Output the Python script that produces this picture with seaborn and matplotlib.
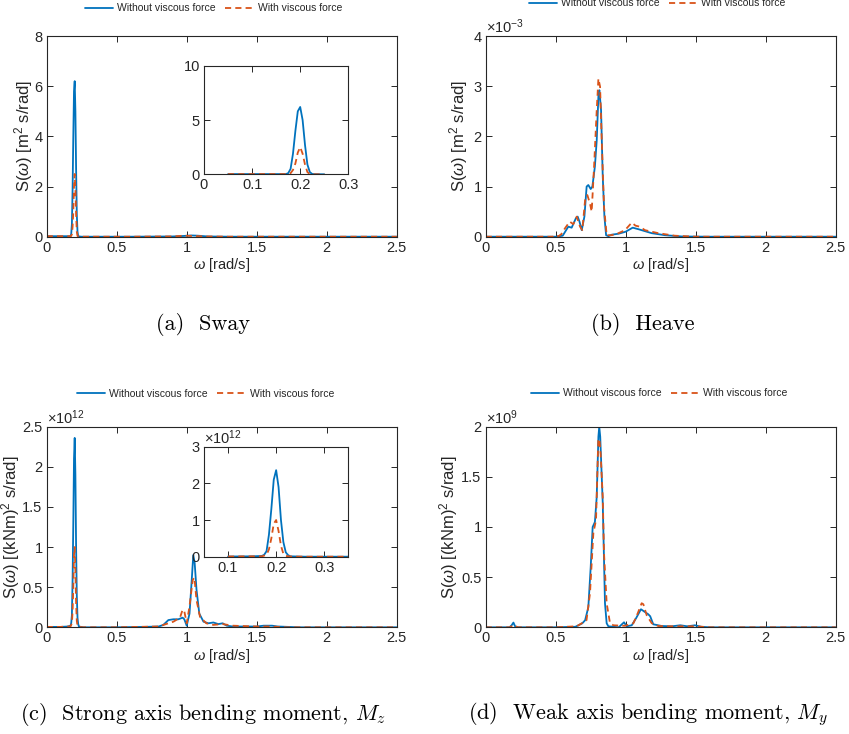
import numpy as np
import pandas as pd
import matplotlib
matplotlib.use("Agg")
import matplotlib.pyplot as plt
from matplotlib.ticker import FuncFormatter
import seaborn as sns

# ---------------- spectra (omega in rad/s) ----------------
# (a) sway [m^2 s/rad]
sway_w = [0.0, 0.05, 0.10, 0.15, 0.17, 0.175, 0.18, 0.185, 0.19, 0.195, 0.20, 0.205, 0.21, 0.215,
          0.22, 0.225, 0.23, 0.25, 0.30, 0.60, 0.90, 0.98, 1.03, 1.08, 1.15, 1.30, 2.00, 2.50]
sway_without = [0.02, 0.02, 0.02, 0.02, 0.02, 0.10, 0.50, 1.90, 4.00, 5.80, 6.20, 5.00, 2.70, 0.90,
                0.20, 0.03, 0.01, 0.0, 0.0, 0.0, 0.01, 0.03, 0.05, 0.04, 0.01, 0.0, 0.0, 0.0]
sway_with = [0.02, 0.02, 0.02, 0.02, 0.02, 0.03, 0.10, 0.40, 1.00, 2.00, 2.50, 1.90, 0.90, 0.20,
             0.03, 0.01, 0.0, 0.0, 0.0, 0.0, 0.01, 0.04, 0.03, 0.02, 0.01, 0.0, 0.0, 0.0]

# (b) heave [1e-3 m^2 s/rad]
heave_w_without = [0.0, 0.50, 0.55, 0.59, 0.614, 0.643, 0.657, 0.670, 0.686, 0.705, 0.721, 0.733,
                   0.750, 0.762, 0.780, 0.793, 0.805, 0.812, 0.824, 0.836, 0.848, 0.860, 0.876,
                   0.90, 0.95, 1.00, 1.05, 1.09, 1.186, 1.28, 1.40, 1.60, 2.50]
heave_without = [0.0, 0.0, 0.02, 0.20, 0.18, 0.36, 0.40, 0.30, 0.13, 0.40, 1.00, 1.03,
                 0.95, 1.00, 1.40, 1.92, 2.80, 2.92, 2.52, 1.20, 0.40, 0.03, 0.01,
                 0.04, 0.06, 0.10, 0.18, 0.15, 0.07, 0.03, 0.005, 0.0, 0.0]
heave_w_with = [0.0, 0.48, 0.50, 0.52, 0.54, 0.567, 0.60, 0.626, 0.650, 0.674, 0.690, 0.710,
                0.726, 0.745, 0.757, 0.774, 0.793, 0.805, 0.817, 0.829, 0.845, 0.864, 0.90,
                0.948, 0.995, 1.043, 1.07, 1.10, 1.138, 1.233, 1.35, 1.50, 2.50]
heave_with = [0.0, 0.0, 0.03, 0.01, 0.05, 0.17, 0.30, 0.25, 0.40, 0.20, 0.13, 0.73,
              0.83, 0.66, 0.50, 1.39, 2.52, 3.15, 2.99, 1.92, 0.60, 0.03, 0.03,
              0.07, 0.13, 0.28, 0.22, 0.20, 0.13, 0.07, 0.02, 0.0, 0.0]
HEAVE_EXP = -3

# (c) strong axis bending moment [1e12 (kNm)^2 s/rad]
mz_w_without = [0.0, 0.10, 0.15, 0.17, 0.175, 0.18, 0.185, 0.19, 0.195, 0.20, 0.205, 0.21, 0.215,
                0.22, 0.225, 0.23, 0.26, 0.35, 0.50, 0.70, 0.80, 0.833, 0.869, 0.905, 0.94, 0.971,
                0.983, 1.00, 1.02, 1.036, 1.047, 1.057, 1.07, 1.09, 1.12, 1.155, 1.19, 1.226,
                1.257, 1.286, 1.33, 1.50, 1.55, 1.61, 1.65, 1.80, 2.50]
mz_without = [0.005, 0.005, 0.01, 0.02, 0.05, 0.15, 0.60, 1.30, 2.10, 2.36, 1.90, 1.00, 0.40,
              0.12, 0.04, 0.01, 0.0, 0.0, 0.0, 0.005, 0.01, 0.03, 0.09, 0.10, 0.10, 0.12,
              0.10, 0.02, 0.17, 0.59, 0.90, 0.80, 0.47, 0.17, 0.07, 0.05, 0.06, 0.04,
              0.05, 0.02, 0.01, 0.01, 0.02, 0.02, 0.01, 0.0, 0.0]
mz_w_with = [0.0, 0.10, 0.15, 0.17, 0.18, 0.185, 0.19, 0.195, 0.20, 0.205, 0.21, 0.215, 0.22,
             0.23, 0.26, 0.35, 0.50, 0.80, 0.87, 0.905, 0.952, 0.971, 0.983, 1.00, 1.02, 1.043,
             1.055, 1.07, 1.095, 1.14, 1.19, 1.257, 1.33, 1.50, 1.60, 1.70, 2.50]
mz_with = [0.005, 0.005, 0.01, 0.01, 0.05, 0.20, 0.50, 0.90, 1.00, 0.70, 0.30, 0.08, 0.02,
           0.005, 0.0, 0.0, 0.0, 0.01, 0.05, 0.07, 0.12, 0.22, 0.20, 0.05, 0.26, 0.59,
           0.62, 0.34, 0.13, 0.05, 0.03, 0.04, 0.02, 0.01, 0.01, 0.0, 0.0]
MZ_EXP = 12

# (d) weak axis bending moment [1e9 (kNm)^2 s/rad]
my_w_without = [0.0, 0.17, 0.185, 0.198, 0.21, 0.225, 0.50, 0.64, 0.662, 0.690, 0.710, 0.733,
                0.750, 0.764, 0.780, 0.793, 0.805, 0.811, 0.818, 0.836, 0.852, 0.864, 0.876,
                0.95, 0.988, 1.007, 1.043, 1.074, 1.109, 1.14, 1.161, 1.175, 1.197, 1.257,
                1.33, 1.39, 1.44, 1.495, 1.54, 1.60, 1.80, 2.50]
my_without = [0.0, 0.0, 0.02, 0.047, 0.01, 0.0, 0.0, 0.005, 0.02, 0.04, 0.07, 0.20,
              0.60, 1.00, 1.05, 1.30, 1.90, 2.00, 1.90, 1.24, 0.24, 0.04, 0.01,
              0.0, 0.05, 0.01, 0.02, 0.09, 0.18, 0.15, 0.13, 0.11, 0.03, 0.013,
              0.01, 0.02, 0.01, 0.02, 0.005, 0.0, 0.0, 0.0]
my_w_with = [0.0, 0.17, 0.20, 0.23, 0.50, 0.65, 0.686, 0.720, 0.745, 0.769, 0.788, 0.804,
             0.812, 0.821, 0.836, 0.845, 0.864, 0.888, 0.912, 0.995, 1.055, 1.086, 1.114,
             1.126, 1.15, 1.186, 1.233, 1.30, 1.40, 1.50, 1.60, 2.50]
my_with = [0.0, 0.0, 0.02, 0.0, 0.0, 0.01, 0.04, 0.07, 0.34, 0.94, 1.07, 1.86,
           1.88, 1.73, 1.30, 0.74, 0.24, 0.04, 0.02, 0.015, 0.04, 0.14, 0.24,
           0.23, 0.12, 0.04, 0.013, 0.01, 0.01, 0.01, 0.0, 0.0]
MY_EXP = 9

series_labels = ["Without viscous force", "With viscous force"]
captions = ["(a)  Sway", "(b)  Heave",
            r"(c)  Strong axis bending moment, $M_z$",
            r"(d)  Weak axis bending moment, $M_y$"]

# ---------------- style ----------------
BLUE = "#0072BD"
ORANGE = "#D95319"
INK = "#262626"
LW = 1.3
DASH = (0, (3.4, 2.3))
TICK_FS = 10.5
LABEL_FS = 12

sns.set_style("ticks")
plt.rcParams.update({
    "font.family": ["Liberation Sans", "DejaVu Sans"],
    "mathtext.fontset": "custom",
    "mathtext.rm": "Liberation Sans",
    "mathtext.it": "Liberation Sans:italic",
    "mathtext.bf": "Liberation Sans:bold",
    "axes.edgecolor": INK,
    "axes.linewidth": 0.8,
    "axes.labelcolor": INK,
    "xtick.color": INK,
    "ytick.color": INK,
    "text.color": INK,
})

fig = plt.figure(figsize=(8.49, 7.34), dpi=100)
W, H = 849.0, 734.0


def box(left, top, right, bottom):
    return [left / W, 1 - bottom / H, (right - left) / W, (bottom - top) / H]


def draw_pair(ax, w1, s1, w2, s2, exp=0, lo=None, hi=None):
    for w, s, color, ls, lab in [(w1, s1, BLUE, "-", series_labels[0]),
                                 (w2, s2, ORANGE, DASH, series_labels[1])]:
        df = pd.DataFrame({"omega": w, "S": np.asarray(s, dtype=float) * 10.0 ** exp})
        if lo is not None:
            df = df[(df["omega"] >= lo) & (df["omega"] <= hi)]
        sns.lineplot(data=df, x="omega", y="S", ax=ax, color=color, linestyle=ls,
                     linewidth=LW, sort=False, estimator=None, label=lab, legend=False)


def style_axes(ax, xlim, ylim, xticks, yticks, exp=0, xlabel=True):
    ax.set_xlim(*xlim)
    ax.set_ylim(*(np.asarray(ylim) * 10.0 ** exp))
    ax.set_xticks(xticks)
    ax.set_yticks(np.asarray(yticks) * 10.0 ** exp)
    ax.xaxis.set_major_formatter(FuncFormatter(lambda v, p: f"{v:g}"))
    ax.yaxis.set_major_formatter(FuncFormatter(lambda v, p: f"{v / 10.0 ** exp:g}"))
    ax.tick_params(direction="in", top=True, right=True, length=4, width=0.7,
                   labelsize=TICK_FS, pad=3)
    for sp in ax.spines.values():
        sp.set_visible(True)
        sp.set_color(INK)
    if exp:
        ax.text(0.0, 1.0, r"$\times$10$^{%d}$" % exp, transform=ax.transAxes,
                ha="left", va="bottom", fontsize=TICK_FS)
    if xlabel:
        ax.set_xlabel(r"$\omega$ [rad/s]", fontsize=TICK_FS, labelpad=1)
    else:
        ax.set_xlabel("")
        ax.set_ylabel("")


def set_ylabel(ax, text, right_px, left_px):
    ax.set_ylabel(text, fontsize=LABEL_FS)
    ax.yaxis.set_label_coords((right_px - left_px) / 350.0, 0.5)


xt = [0, 0.5, 1, 1.5, 2, 2.5]

# (a) sway
ax_a = fig.add_axes(box(46.7, 36, 396.7, 236.7))
draw_pair(ax_a, sway_w, sway_without, sway_w, sway_with)
style_axes(ax_a, (0, 2.5), (0, 8), xt, [0, 2, 4, 6, 8])
set_ylabel(ax_a, r"S($\omega$) [m$^2$ s/rad]", 35, 46.7)

ins_a = fig.add_axes(box(204, 65.7, 348.3, 174.3))
draw_pair(ins_a, sway_w, sway_without, sway_w, sway_with, lo=0.05, hi=0.25)
style_axes(ins_a, (0, 0.3), (0, 10), [0, 0.1, 0.2, 0.3], [0, 5, 10], xlabel=False)

# (b) heave
ax_b = fig.add_axes(box(485.7, 36, 835.7, 236.7))
draw_pair(ax_b, heave_w_without, heave_without, heave_w_with, heave_with, exp=HEAVE_EXP)
style_axes(ax_b, (0, 2.5), (0, 4), xt, [0, 1, 2, 3, 4], exp=HEAVE_EXP)
set_ylabel(ax_b, r"S($\omega$) [m$^2$ s/rad]", 470, 485.7)

# (c) strong axis bending moment
ax_c = fig.add_axes(box(46.7, 426.7, 396.7, 627.3))
draw_pair(ax_c, mz_w_without, mz_without, mz_w_with, mz_with, exp=MZ_EXP)
style_axes(ax_c, (0, 2.5), (0, 2.5), xt, [0, 0.5, 1, 1.5, 2, 2.5], exp=MZ_EXP)
set_ylabel(ax_c, r"S($\omega$) [(kNm)$^2$ s/rad]", 22, 46.7)

ins_c = fig.add_axes(box(204, 446.7, 348.3, 556.7))
draw_pair(ins_c, mz_w_without, mz_without, mz_w_with, mz_with, exp=MZ_EXP, lo=0.05, hi=0.35)
style_axes(ins_c, (0.05, 0.35), (0, 3), [0.1, 0.2, 0.3], [0, 1, 2, 3], exp=MZ_EXP, xlabel=False)

# (d) weak axis bending moment
ax_d = fig.add_axes(box(485.7, 426.7, 835.7, 627.3))
draw_pair(ax_d, my_w_without, my_without, my_w_with, my_with, exp=MY_EXP)
style_axes(ax_d, (0, 2.5), (0, 2), xt, [0, 0.5, 1, 1.5, 2], exp=MY_EXP)
set_ylabel(ax_d, r"S($\omega$) [(kNm)$^2$ s/rad]", 460, 485.7)

# legends above each panel
for ax, (cx, cy) in [(ax_a, (213.5, 8.3)), (ax_b, (657, 3.5)),
                     (ax_c, (205.5, 394)), (ax_d, (659, 393.3))]:
    handles = ax.get_lines()[:2]
    fig.legend(handles, series_labels, loc="center", bbox_to_anchor=(cx / W, 1 - cy / H),
               ncol=2, frameon=False, fontsize=7.5, handlelength=2.7,
               handletextpad=0.4, columnspacing=0.9, borderaxespad=0, borderpad=0)

# sub-figure captions
for txt, (cx, cy) in zip(captions, [(203, 325), (643, 325), (203, 714), (648, 714)]):
    fig.text(cx / W, 1 - cy / H, txt, ha="center", va="center", fontsize=16,
             family="cmr10", math_fontfamily="cm", color="black")

fig.savefig("out.png", dpi=100)
